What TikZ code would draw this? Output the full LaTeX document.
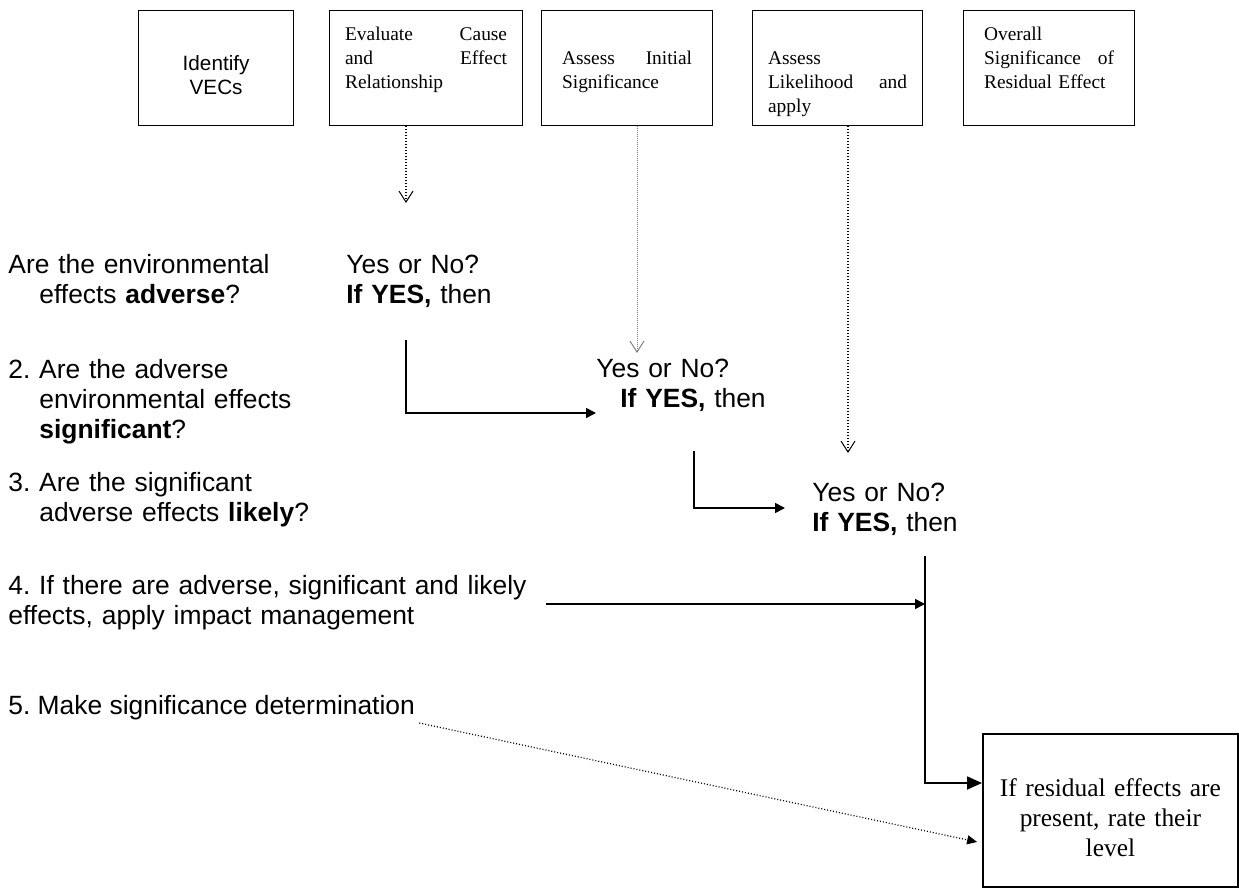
\documentclass[tikz,border=0pt]{standalone}
\usepackage{fontspec}
\setmainfont{Liberation Serif}
\newfontfamily\arialfont{Liberation Sans}
\usetikzlibrary{arrows.meta,calc}
\frenchspacing

\newcommand\askfont{\arialfont\fontsize{13.2pt}{15pt}\selectfont}
\newcommand\stepfont{\fontsize{9.7pt}{12pt}\selectfont}
\newcommand\vecfont{\arialfont\fontsize{10.35pt}{12pt}\selectfont}
\newcommand\ratefont{\fontsize{12.7pt}{15pt}\selectfont}

\tikzset{
  stepbox/.style={draw, line width=0.6pt, anchor=north west, inner sep=0pt,
    font=\stepfont, align=left},
  ask/.style={anchor=base west, inner sep=0pt, font=\askfont, align=left},
  dotlink/.style={line width=0.6pt, dash pattern=on 0.5pt off 1pt,
    -{Straight Barb[length=5.5pt,width=7pt,line width=0.5pt]}},
  arr/.style={line width=0.8pt, -{Triangle[length=5pt,width=5pt]}},
}

\begin{document}
\begin{tikzpicture}[x=0.5pt,y=-0.5pt]
\useasboundingbox (0,0) rectangle (1239,888);

% step boxes along the top
\node[stepbox, font=\vecfont, align=center, text width=60pt, minimum width=77.5pt,
  text height=30pt, text depth=27.5pt] (box1) at (138,10) {Identify\\VECs};
\node[stepbox, text width=81pt, minimum width=96.5pt,
  text height=14.75pt, text depth=42.75pt] (box2) at (329,10)
  {Evaluate\hfill Cause\\and\hfill Effect\\Relationship};
\node[stepbox, text width=65pt, minimum width=85.5pt,
  text height=26.75pt, text depth=30.75pt] (box3) at (541,10)
  {Assess\hfill Initial\\Significance};
\node[stepbox, text width=69.5pt, minimum width=85pt,
  text height=26.75pt, text depth=30.75pt] (box4) at (752,10)
  {Assess\\Likelihood\hfill and\\apply};
\node[stepbox, text width=65pt, minimum width=85.5pt,
  text height=14.75pt, text depth=42.75pt] (box5) at (963,10)
  {Overall\\Significance\hfill of\\Residual Effect};

% questions on the left
\node[ask, text width=170pt] (q1) at (8,274)
  {Are the environmental\\\hspace*{15.5pt}effects \textbf{adverse}?};
\node[ask, text width=170pt] (q2) at (8,379)
  {2. Are the adverse\\\hspace*{15.5pt}environmental effects\\\hspace*{15.5pt}\textbf{significant}?};
\node[ask, text width=170pt] (q3) at (8,491)
  {3. Are the significant\\\hspace*{15.5pt}adverse effects \textbf{likely}?};
\node[ask, text width=280pt] (q4) at (8,594)
  {4. If there are adverse, significant and likely\\effects, apply impact management};
\node[ask] (q5) at (8,714) {5. Make significance determination};

% answers
\node[ask, text width=100pt] (yn1) at (346,274) {Yes or No?\\\textbf{If YES,} then};
\node[ask, text width=100pt] (yn2) at (596,378) {Yes or No?\\\hspace*{12pt}\textbf{If YES,} then};
\node[ask, text width=100pt] (yn3) at (812,501) {Yes or No?\\\textbf{If YES,} then};

% result box
\node[draw, line width=0.9pt, anchor=north west, inner sep=0pt, font=\ratefont,
  align=center, text width=115pt, minimum width=127.5pt,
  text height=31.25pt, text depth=45.25pt] (res) at (982,733)
  {If residual effects are\\present, rate their\\level};

% ends of the links
\coordinate (d1) at (406,203);
\coordinate (d2) at (637,353);
\coordinate (d3) at (848,453);
\coordinate (k1) at (406,340);
\coordinate (k2) at (694,451);
\coordinate (e2) at (785,508);
\coordinate (s4) at (546,604);
\coordinate (v0) at (925,556);

\draw[dotlink] (box2.south -| d1) -- (d1);
\draw[dotlink, gray, line width=0.5pt, dash pattern=on 0.4pt off 0.6pt] (box3.south -| d2) -- (d2);
\draw[dotlink] (box4.south -| d3) -- (d3);

\draw[arr] (k1) |- (yn2.west |- 0,413);
\draw[arr] (k2) |- (e2);
\draw[arr] (s4) -- (v0 |- s4);
\draw[arr, line width=0.9pt, -{Triangle[length=7.5pt,width=6.5pt]}] (v0) |- (res.west |- 0,783);

\draw[line width=0.6pt, dash pattern=on 0.5pt off 1pt, -{Triangle[length=5pt,width=4.5pt]},
  shorten >=2.5pt] ($(q5.base east)+(4,9)$) -- (res.west |- 0,843);
\end{tikzpicture}
\end{document}
